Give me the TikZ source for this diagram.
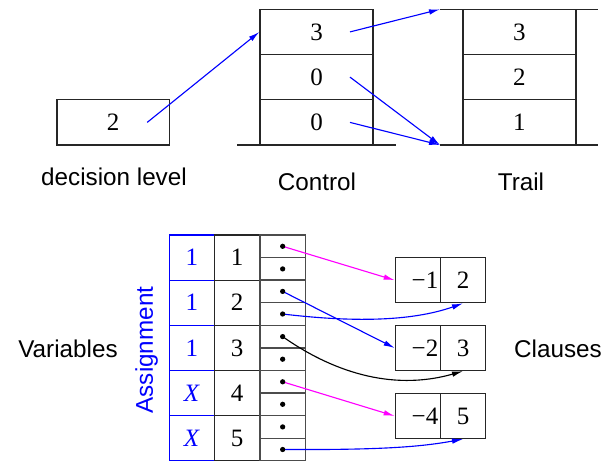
\documentclass[tikz,border=0pt]{standalone}
\usepackage{fontspec}
\setmainfont{Liberation Serif}
\setsansfont{Liberation Sans}
\usetikzlibrary{arrows.meta}
\definecolor{ptrmagenta}{RGB}{255,0,255}

\begin{document}
\begin{tikzpicture}[x=0.4pt, y=-0.4pt]
    % Styles
    \tikzstyle{cell} = [rectangle, draw=black!85, line width=0.5pt, minimum width=45.2pt, minimum height=18.1pt, inner sep=0pt, font=\fontsize{10}{12}\selectfont]
    \tikzstyle{asgcell} = [cell, draw=blue, text=blue, minimum width=18pt, minimum height=18.06pt]
    \tikzstyle{varcell} = [cell, minimum width=18.3pt, minimum height=18.06pt]
    \tikzstyle{ptrcell} = [cell, draw=black!70, minimum width=18.1pt, minimum height=9.03pt]
    \tikzstyle{clscell} = [cell, minimum width=18pt, minimum height=18pt]
    \tikzstyle{negcell} = [clscell, text width=16.4pt, inner xsep=0.8pt, align=right]
    \tikzstyle{caption} = [anchor=base, font=\sffamily\fontsize{9.7}{11.6}\selectfont]
    \tikzstyle{arrow} = [-{Latex[length=4.4pt, width=2.2pt]}, line width=0.45pt]

    \useasboundingbox (0,0) rectangle (615,462);

    % Decision level and control stack
    \node[cell, minimum width=45pt] (dec) at (113.2,122.4) {2};
    \node[cell] (ctlA) at (316.5,31.9) {3};
    \node[cell] (ctlB) at (316.5,77.1) {0};
    \node[cell] (ctlC) at (316.5,122.4) {0};
    \coordinate (ctlL) at (237,145);
    \coordinate (ctlR) at (396,145);
    \draw[line width=0.5pt, black!85] (ctlL) -- (ctlR);

    % Trail
    \node[cell] (trA) at (519.4,31.9) {3};
    \node[cell] (trB) at (519.4,77.1) {2};
    \node[cell] (trC) at (519.4,122.4) {1};
    \coordinate (trTL) at (440,9.3);
    \coordinate (trTR) at (598,9.3);
    \coordinate (trBL) at (440,145);
    \coordinate (trBR) at (598,145);
    \draw[line width=0.5pt, black!85] (trTL) -- (trTR);
    \draw[line width=0.5pt, black!85] (trBL) -- (trBR);

    % Captions
    \node[caption] (declabel) at (114,185) {decision level};
    \node[caption] (ctllabel) at (317,190) {Control};
    \node[caption] (trlabel) at (521,190) {Trail};
    \node[caption] (varlabel) at (68,357) {Variables};
    \node[caption] (clslabel) at (558,357) {Clauses};
    \node[caption, rotate=90, text=blue] (asglabel) at (153,350) {Assignment};

    % Assignment and variables
    \node[asgcell] (asg1) at (191.8,257.6) {\raisebox{-1.8pt}{1}};
    \node[asgcell] (asg2) at (191.8,302.7) {\raisebox{-1.2pt}{1}};
    \node[asgcell] (asg3) at (191.8,347.9) {\raisebox{-1.4pt}{1}};
    \node[asgcell] (asg4) at (191.8,393.0) {\textit{X}};
    \node[asgcell] (asg5) at (191.8,438.2) {\textit{X}};
    \node[varcell] (var1) at (237.15,257.6) {\raisebox{-1.6pt}{1}};
    \node[varcell] (var2) at (237.15,302.7) {2};
    \node[varcell] (var3) at (237.15,347.9) {3};
    \node[varcell] (var4) at (237.15,393.0) {4};
    \node[varcell] (var5) at (237.15,438.2) {5};

    % Watch pointers, two per variable
    \node[ptrcell] (ptr1) at (282.65,246.3) {};
    \node[ptrcell] (ptr2) at (282.65,268.9) {};
    \node[ptrcell] (ptr3) at (282.65,291.4) {};
    \node[ptrcell] (ptr4) at (282.65,314.0) {};
    \node[ptrcell] (ptr5) at (282.65,336.6) {};
    \node[ptrcell] (ptr6) at (282.65,359.2) {};
    \node[ptrcell] (ptr7) at (282.65,381.8) {};
    \node[ptrcell] (ptr8) at (282.65,404.3) {};
    \node[ptrcell] (ptr9) at (282.65,426.9) {};
    \node[ptrcell] (ptr10) at (282.65,449.5) {};

    % Clauses
    \node[negcell] (cl1n) at (417.8,280.2) {−1};
    \node[clscell, minimum width=18.2pt] (cl1p) at (463,280.2) {2};
    \node[negcell] (cl2n) at (417.8,348) {−2};
    \node[clscell, minimum width=18.2pt] (cl2p) at (463,348) {3};
    \node[negcell] (cl3n) at (417.8,416) {−4};
    \node[clscell, minimum width=18.2pt] (cl3p) at (463,416) {5};

    % Arrows
    \draw[arrow, blue] ([xshift=13.6pt]dec.center) -- (ctlA.west);
    \draw[arrow, blue] ([xshift=13.4pt]ctlA.center) -- (trTL);
    \draw[arrow, blue] ([xshift=13.4pt]ctlB.center) -- (trBL);
    \draw[arrow, blue] ([xshift=13.4pt]ctlC.center) -- (trBL);

    \draw[arrow, ptrmagenta] (ptr1.center) -- (cl1n.west);
    \draw[arrow, blue] (ptr3.center) -- (cl2n.west);
    \draw[arrow, blue] (ptr4.center) .. controls (350,322) and (410,322) .. (cl1p.south);
    \draw[arrow, black] (ptr5.center) .. controls (330,370) and (390,392) .. (cl2p.south);
    \draw[arrow, ptrmagenta] (ptr7.center) -- (cl3n.west);
    \draw[arrow, blue] (ptr10.center) .. controls (380,450) and (420,447) .. (cl3p.south);

    \foreach \i in {1,...,10} \fill (ptr\i.center) circle (1.05pt);
\end{tikzpicture}
\end{document}
